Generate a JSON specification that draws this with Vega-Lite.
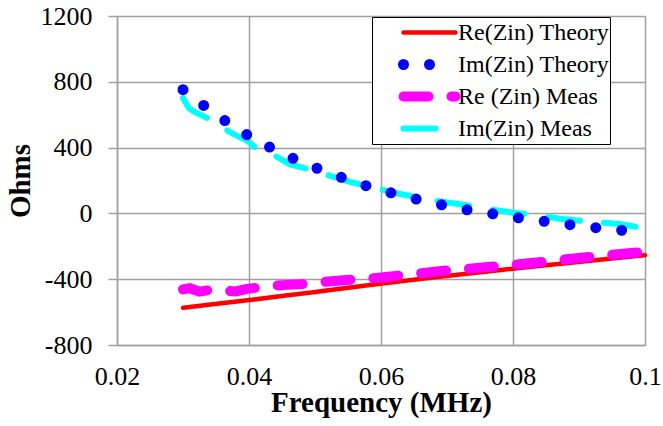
{
  "$schema": "https://vega.github.io/schema/vega-lite/v6.json",
  "width": 528,
  "height": 329,
  "autosize": "none",
  "padding": {"left": 117, "top": 16, "right": 18, "bottom": 81},
  "background": "white",
  "config": {"view": {"stroke": null}, "font": "Liberation Serif, Times New Roman, DejaVu Serif, serif"},
  "data": {"values": [
    {"series": "Re(Zin) Theory", "f": 0.03, "v": -574},
    {"series": "Re(Zin) Theory", "f": 0.035, "v": -550},
    {"series": "Re(Zin) Theory", "f": 0.04, "v": -527},
    {"series": "Re(Zin) Theory", "f": 0.045, "v": -502},
    {"series": "Re(Zin) Theory", "f": 0.05, "v": -478},
    {"series": "Re(Zin) Theory", "f": 0.055, "v": -452},
    {"series": "Re(Zin) Theory", "f": 0.06, "v": -427},
    {"series": "Re(Zin) Theory", "f": 0.065, "v": -403},
    {"series": "Re(Zin) Theory", "f": 0.07, "v": -380},
    {"series": "Re(Zin) Theory", "f": 0.075, "v": -358},
    {"series": "Re(Zin) Theory", "f": 0.08, "v": -336},
    {"series": "Re(Zin) Theory", "f": 0.085, "v": -315},
    {"series": "Re(Zin) Theory", "f": 0.09, "v": -295},
    {"series": "Re(Zin) Theory", "f": 0.095, "v": -274},
    {"series": "Re(Zin) Theory", "f": 0.1, "v": -254},

    {"series": "Im(Zin) Theory", "f": 0.03, "v": 752},
    {"series": "Im(Zin) Theory", "f": 0.0335, "v": 645},
    {"series": "Im(Zin) Theory", "f": 0.037, "v": 545},
    {"series": "Im(Zin) Theory", "f": 0.0405, "v": 458},
    {"series": "Im(Zin) Theory", "f": 0.044, "v": 385},
    {"series": "Im(Zin) Theory", "f": 0.048, "v": 310},
    {"series": "Im(Zin) Theory", "f": 0.052, "v": 248},
    {"series": "Im(Zin) Theory", "f": 0.056, "v": 190},
    {"series": "Im(Zin) Theory", "f": 0.06, "v": 140},
    {"series": "Im(Zin) Theory", "f": 0.064, "v": 100},
    {"series": "Im(Zin) Theory", "f": 0.068, "v": 62},
    {"series": "Im(Zin) Theory", "f": 0.072, "v": 28},
    {"series": "Im(Zin) Theory", "f": 0.076, "v": 3},
    {"series": "Im(Zin) Theory", "f": 0.08, "v": -22},
    {"series": "Im(Zin) Theory", "f": 0.085, "v": -50},
    {"series": "Im(Zin) Theory", "f": 0.09, "v": -76},
    {"series": "Im(Zin) Theory", "f": 0.095, "v": -97},
    {"series": "Im(Zin) Theory", "f": 0.1, "v": -118},

    {"series": "Re (Zin) Meas", "f": 0.03, "v": -462},
    {"series": "Re (Zin) Meas", "f": 0.031, "v": -455},
    {"series": "Re (Zin) Meas", "f": 0.0325, "v": -476},
    {"series": "Re (Zin) Meas", "f": 0.034, "v": -466},
    {"series": "Re (Zin) Meas", "f": 0.036, "v": -470},
    {"series": "Re (Zin) Meas", "f": 0.038, "v": -474},
    {"series": "Re (Zin) Meas", "f": 0.0395, "v": -460},
    {"series": "Re (Zin) Meas", "f": 0.042, "v": -447},
    {"series": "Re (Zin) Meas", "f": 0.045, "v": -436},
    {"series": "Re (Zin) Meas", "f": 0.048, "v": -430},
    {"series": "Re (Zin) Meas", "f": 0.052, "v": -414},
    {"series": "Re (Zin) Meas", "f": 0.056, "v": -402},
    {"series": "Re (Zin) Meas", "f": 0.06, "v": -390},
    {"series": "Re (Zin) Meas", "f": 0.065, "v": -368},
    {"series": "Re (Zin) Meas", "f": 0.07, "v": -347},
    {"series": "Re (Zin) Meas", "f": 0.075, "v": -330},
    {"series": "Re (Zin) Meas", "f": 0.08, "v": -313},
    {"series": "Re (Zin) Meas", "f": 0.085, "v": -293},
    {"series": "Re (Zin) Meas", "f": 0.09, "v": -271},
    {"series": "Re (Zin) Meas", "f": 0.095, "v": -251},
    {"series": "Re (Zin) Meas", "f": 0.1, "v": -233},

    {"series": "Im(Zin) Meas", "f": 0.03, "v": 700},
    {"series": "Im(Zin) Meas", "f": 0.0309, "v": 640},
    {"series": "Im(Zin) Meas", "f": 0.0317, "v": 618},
    {"series": "Im(Zin) Meas", "f": 0.0345, "v": 563},
    {"series": "Im(Zin) Meas", "f": 0.037, "v": 497},
    {"series": "Im(Zin) Meas", "f": 0.038, "v": 476},
    {"series": "Im(Zin) Meas", "f": 0.0396, "v": 446},
    {"series": "Im(Zin) Meas", "f": 0.0414, "v": 385},
    {"series": "Im(Zin) Meas", "f": 0.0442, "v": 345},
    {"series": "Im(Zin) Meas", "f": 0.0462, "v": 298},
    {"series": "Im(Zin) Meas", "f": 0.0497, "v": 262},
    {"series": "Im(Zin) Meas", "f": 0.0527, "v": 223},
    {"series": "Im(Zin) Meas", "f": 0.0553, "v": 192},
    {"series": "Im(Zin) Meas", "f": 0.0583, "v": 162},
    {"series": "Im(Zin) Meas", "f": 0.0625, "v": 122},
    {"series": "Im(Zin) Meas", "f": 0.0669, "v": 85},
    {"series": "Im(Zin) Meas", "f": 0.073, "v": 50},
    {"series": "Im(Zin) Meas", "f": 0.0755, "v": 30},
    {"series": "Im(Zin) Meas", "f": 0.08, "v": 4},
    {"series": "Im(Zin) Meas", "f": 0.0841, "v": -12},
    {"series": "Im(Zin) Meas", "f": 0.0871, "v": -32},
    {"series": "Im(Zin) Meas", "f": 0.0901, "v": -45},
    {"series": "Im(Zin) Meas", "f": 0.0962, "v": -65},
    {"series": "Im(Zin) Meas", "f": 0.1, "v": -90}
  ]},
  "encoding": {
    "x": {
      "field": "f", "type": "quantitative",
      "scale": {"domain": [0.02, 0.1], "nice": false, "zero": false},
      "axis": {
        "values": [0.02, 0.04, 0.06, 0.08, 0.1], "format": ".2~f",
        "title": "Frequency (MHz)", "titleFont": "Liberation Serif, Times New Roman, DejaVu Serif, serif", "titleFontSize": 29, "titleFontWeight": "bold", "titleColor": "black", "titlePadding": -1,
        "labelFont": "Liberation Serif, Times New Roman, DejaVu Serif, serif", "labelFontSize": 26, "labelColor": "black", "labelPadding": 18, "labelFlush": false, "labelOverlap": false,
        "ticks": false, "domainColor": "#a0a0a0", "domainWidth": 1.5, "gridColor": "#a0a0a0", "gridWidth": 1.5
      }
    },
    "y": {
      "field": "v", "type": "quantitative",
      "scale": {"domain": [-800, 1200], "nice": false},
      "axis": {
        "values": [-800, -400, 0, 400, 800, 1200], "labelExpr": "toString(datum.value)",
        "title": "Ohms", "titleFont": "Liberation Serif, Times New Roman, DejaVu Serif, serif", "titleFontSize": 29, "titleFontWeight": "bold", "titleColor": "black", "titlePadding": 5,
        "labelFont": "Liberation Serif, Times New Roman, DejaVu Serif, serif", "labelFontSize": 26, "labelColor": "black", "labelPadding": 16,
        "tickSize": 9, "tickColor": "#a0a0a0", "tickWidth": 1.5, "domainColor": "#a0a0a0", "domainWidth": 1.5, "gridColor": "#a0a0a0", "gridWidth": 1.5
      }
    },
    "color": {
      "field": "series", "type": "nominal",
      "scale": {"domain": ["Re(Zin) Theory", "Im(Zin) Theory", "Re (Zin) Meas", "Im(Zin) Meas"], "range": ["#ff0000", "#0000ff", "#ff00ff", "#00ffff"]},
      "legend": {
        "title": null, "orient": "none", "legendX": 255, "legendY": 1,
        "padding": 0, "strokeColor": "black", "fillColor": "white",
        "symbolType": "stroke", "symbolSize": 2704, "symbolOffset": 26, "labelOffset": -3,
        "clipHeight": 31, "rowPadding": 1,
        "labelFont": "Liberation Serif, Times New Roman, DejaVu Serif, serif", "labelFontSize": 24, "labelColor": "black", "labelLimit": 400,
        "labelExpr": "datum.label + '       '",
        "encoding": {"symbols": {"strokeCap": {"value": "round"}}}
      }
    },
    "strokeDash": {
      "field": "series", "type": "nominal",
      "scale": {"domain": ["Re(Zin) Theory", "Im(Zin) Theory", "Re (Zin) Meas", "Im(Zin) Meas"], "range": [[1, 0], [0, 26], [25, 23], [32, 24]]}
    },
    "strokeWidth": {
      "field": "series", "type": "nominal",
      "scale": {"type": "ordinal", "domain": ["Re(Zin) Theory", "Im(Zin) Theory", "Re (Zin) Meas", "Im(Zin) Meas"], "range": [4.5, 11, 10, 6]}
    }
  },
  "layer": [
    {"transform": [{"filter": "datum.series === 'Re(Zin) Theory'"}], "mark": {"type": "line", "strokeCap": "round"}},
    {"transform": [{"filter": "datum.series === 'Re (Zin) Meas'"}], "mark": {"type": "line", "strokeCap": "round"}},
    {"transform": [{"filter": "datum.series === 'Im(Zin) Meas'"}], "mark": {"type": "line", "strokeCap": "round"}},
    {"transform": [{"filter": "datum.series === 'Im(Zin) Theory'"}], "mark": {"type": "line", "strokeCap": "round"}}
  ]
}
